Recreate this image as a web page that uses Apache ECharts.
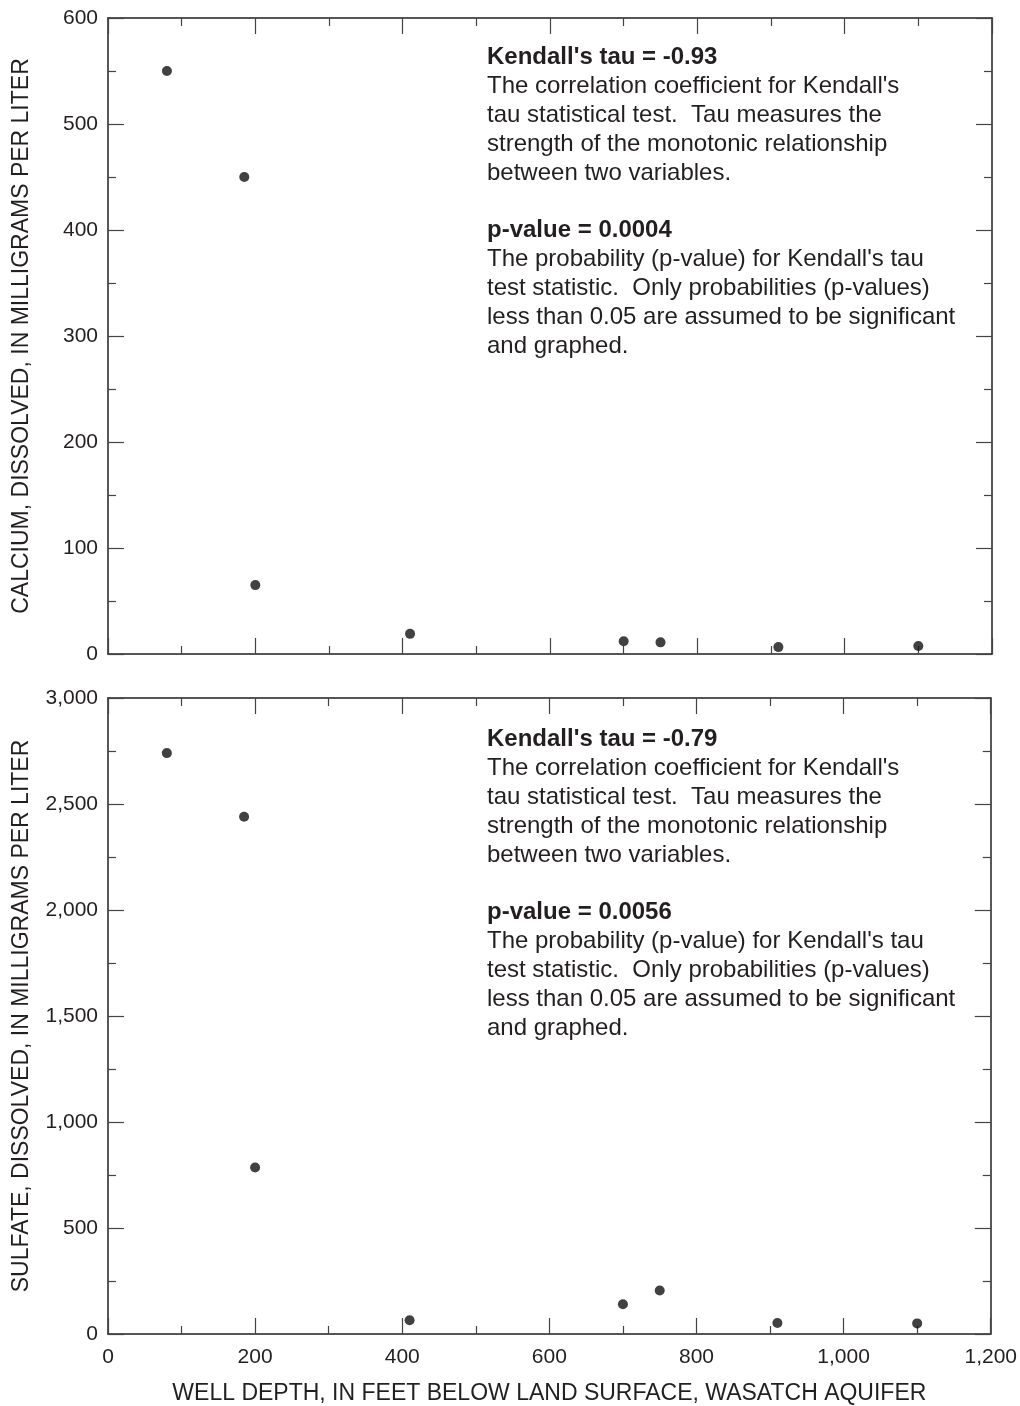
<!DOCTYPE html>
<html><head><meta charset="utf-8">
<script src="https://cdn.jsdelivr.net/npm/echarts@6/dist/echarts.min.js"></script>
<style>html,body{margin:0;padding:0;background:#fff}#c{width:1020px;height:1406px}</style>
</head><body><div id="c"></div>
<script>
const wellDepth = [80, 185, 200, 410, 700, 750, 910, 1100];
const calcium = [550, 450, 65, 19, 12, 11, 6.5, 7.5];
const sulfate = [2740, 2440, 785, 65, 140, 205, 52, 50];
const xTicks = [0, 200, 400, 600, 800, 1000, 1200];
const calciumTicks = [0, 100, 200, 300, 400, 500, 600];
const sulfateTicks = [0, 500, 1000, 1500, 2000, 2500, 3000];
const caTitle = 'CALCIUM, DISSOLVED, IN MILLIGRAMS PER LITER';
const so4Title = 'SULFATE, DISSOLVED, IN MILLIGRAMS PER LITER';
const xTitle = 'WELL DEPTH, IN FEET BELOW LAND SURFACE, WASATCH AQUIFER';
const caNote = ["Kendall's tau = -0.93", "p-value = 0.0004"];
const so4Note = ["Kendall's tau = -0.79", "p-value = 0.0056"];
const noteBody1 = ["The correlation coefficient for Kendall's", "tau statistical test.  Tau measures the", "strength of the monotonic relationship", "between two variables."];
const noteBody2 = ["The probability (p-value) for Kendall's tau", "test statistic.  Only probabilities (p-values)", "less than 0.05 are assumed to be significant", "and graphed."];

const FONT = '"Liberation Sans", Arial, sans-serif';
const INK = '#231f20';
const fmt = v => v >= 1000 ? v.toLocaleString('en-US') : String(v);
const lineStyle = {color: INK, width: 1.5};
const tickStyle = {color: '#444', width: 1.2};

function xAx(grid, pos, labels, name) {
  return {
    type: 'value', gridIndex: grid, position: pos, min: xTicks[0], max: xTicks[xTicks.length-1], interval: 200,
    axisLine: {show: true, onZero: false, lineStyle},
    axisTick: {show: true, inside: true, length: 16, lineStyle: tickStyle},
    minorTick: {show: true, splitNumber: 2, length: 8, lineStyle: tickStyle},
    splitLine: {show: false},
    axisLabel: {show: labels, formatter: fmt, fontFamily: FONT, fontSize: 21, color: INK, margin: 13},
    name: name || '', nameLocation: 'middle', nameGap: 48,
    nameTextStyle: {fontFamily: FONT, fontSize: 23, color: INK}
  };
}
function yAx(grid, pos, ticks, labels, name) {
  const iv = ticks[1] - ticks[0];
  return {
    type: 'value', gridIndex: grid, position: pos, min: ticks[0], max: ticks[ticks.length-1], interval: iv,
    axisLine: {show: true, onZero: false, lineStyle},
    axisTick: {show: true, inside: true, length: 16, lineStyle: tickStyle},
    minorTick: {show: true, splitNumber: 2, length: 8, lineStyle: tickStyle},
    splitLine: {show: false},
    axisLabel: {show: labels, formatter: fmt, fontFamily: FONT, fontSize: 21, color: INK, margin: 10},
    name: name || '', nameLocation: 'middle', nameGap: 75, nameRotate: 90,
    nameTextStyle: {fontFamily: FONT, fontSize: 23, color: INK}
  };
}

function note(top, head, pv) {
  const lh = 29;
  const els = [];
  const t = (y, s, bold) => els.push({type: 'text', left: 487, top: y,
    style: {text: s, fontFamily: FONT, fontSize: 24, fontWeight: bold ? 'bold' : 'normal', fill: INK}});
  t(top, head, true);
  noteBody1.forEach((s, i) => t(top + lh * (i + 1), s));
  t(top + 173, pv, true);
  noteBody2.forEach((s, i) => t(top + 173 + lh * (i + 1), s));
  return els;
}

const chart = echarts.init(document.getElementById('c'));
chart.setOption({
  animation: false,
  backgroundColor: '#fff',
  grid: [
    {left: 108, right: 28, top: 18, height: 636},
    {left: 108, right: 28, top: 698, height: 636}
  ],
  xAxis: [xAx(0, 'bottom', false), xAx(0, 'top', false), xAx(1, 'bottom', true, xTitle), xAx(1, 'top', false)],
  yAxis: [yAx(0, 'left', calciumTicks, true, caTitle), yAx(0, 'right', calciumTicks, false),
          yAx(1, 'left', sulfateTicks, true, so4Title), yAx(1, 'right', sulfateTicks, false)],
  series: [
    {type: 'scatter', xAxisIndex: 0, yAxisIndex: 0, symbolSize: 10, itemStyle: {color: '#111'},
     data: wellDepth.map((x, i) => [x, calcium[i]])},
    {type: 'scatter', xAxisIndex: 2, yAxisIndex: 2, symbolSize: 10, itemStyle: {color: '#111'},
     data: wellDepth.map((x, i) => [x, sulfate[i]])}
  ],
  graphic: note(45, caNote[0], caNote[1]).concat(note(727, so4Note[0], so4Note[1]))
});
</script></body></html>
